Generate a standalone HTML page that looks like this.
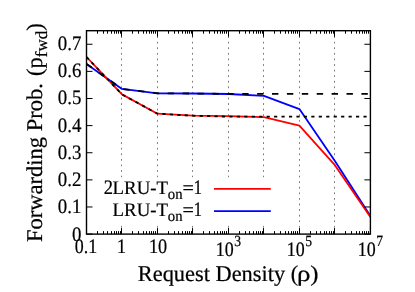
<!DOCTYPE html>
<html><head><meta charset="utf-8"><style>
html,body{margin:0;padding:0;background:#fff;}
body{width:415px;height:292px;position:relative;overflow:hidden;font-family:"Liberation Serif",serif;}
</style></head><body>
<svg width="415" height="292" viewBox="0 0 415 292" style="position:absolute;left:0;top:0;will-change:transform" text-rendering="geometricPrecision">
<rect width="415" height="292" fill="#fff"/>
<line x1="121.50" y1="30.7" x2="121.50" y2="234.1" stroke="#7c7c7c" stroke-width="1" stroke-dasharray="1.8,3.78" stroke-dashoffset="0.1"/>
<line x1="157.50" y1="30.7" x2="157.50" y2="234.1" stroke="#7c7c7c" stroke-width="1" stroke-dasharray="1.8,3.78" stroke-dashoffset="0.1"/>
<line x1="192.50" y1="30.7" x2="192.50" y2="234.1" stroke="#7c7c7c" stroke-width="1" stroke-dasharray="1.8,3.78" stroke-dashoffset="0.1"/>
<line x1="228.50" y1="30.7" x2="228.50" y2="234.1" stroke="#7c7c7c" stroke-width="1" stroke-dasharray="1.8,3.78" stroke-dashoffset="0.1"/>
<line x1="263.50" y1="30.7" x2="263.50" y2="234.1" stroke="#7c7c7c" stroke-width="1" stroke-dasharray="1.8,3.78" stroke-dashoffset="0.1"/>
<line x1="299.50" y1="30.7" x2="299.50" y2="234.1" stroke="#7c7c7c" stroke-width="1" stroke-dasharray="1.8,3.78" stroke-dashoffset="0.1"/>
<line x1="334.50" y1="30.7" x2="334.50" y2="234.1" stroke="#7c7c7c" stroke-width="1" stroke-dasharray="1.8,3.78" stroke-dashoffset="0.1"/>
<polyline points="86.50,63.90 121.99,88.90 157.47,93.30 192.96,93.50 228.45,94.00 263.94,95.80 299.42,109.10 334.91,161.00 370.40,215.90" fill="none" stroke="#0000ff" stroke-width="1.8" stroke-linejoin="round"/>
<polyline points="86.50,57.00 121.99,94.40 157.47,113.70 192.96,115.70 228.45,116.20 263.94,117.20 299.42,125.70 334.91,165.20 370.40,217.00" fill="none" stroke="#ff0000" stroke-width="1.8" stroke-linejoin="round"/>
<polyline points="86.50,63.90 121.99,88.90 157.47,93.30 192.96,93.50 228.45,93.90 370.40,93.90" fill="none" stroke="#000" stroke-width="1.8" stroke-dasharray="6.4,8.5"/>
<polyline points="86.50,57.00 121.99,94.40 157.47,113.70 192.96,115.70 228.45,116.70 370.40,116.70" fill="none" stroke="#000" stroke-width="1.8" stroke-dasharray="3.2,4.25"/>
<rect x="98" y="177.4" width="182" height="45.1" fill="#fff"/>
<rect x="86.5" y="30.7" width="283.9" height="203.4" fill="none" stroke="#000" stroke-width="1.4"/>
<line x1="86.5" y1="234.10" x2="92.5" y2="234.10" stroke="#000" stroke-width="1"/>
<line x1="370.4" y1="234.10" x2="364.4" y2="234.10" stroke="#000" stroke-width="1"/>
<line x1="86.5" y1="206.98" x2="92.5" y2="206.98" stroke="#000" stroke-width="1"/>
<line x1="370.4" y1="206.98" x2="364.4" y2="206.98" stroke="#000" stroke-width="1"/>
<line x1="86.5" y1="179.86" x2="92.5" y2="179.86" stroke="#000" stroke-width="1"/>
<line x1="370.4" y1="179.86" x2="364.4" y2="179.86" stroke="#000" stroke-width="1"/>
<line x1="86.5" y1="152.74" x2="92.5" y2="152.74" stroke="#000" stroke-width="1"/>
<line x1="370.4" y1="152.74" x2="364.4" y2="152.74" stroke="#000" stroke-width="1"/>
<line x1="86.5" y1="125.62" x2="92.5" y2="125.62" stroke="#000" stroke-width="1"/>
<line x1="370.4" y1="125.62" x2="364.4" y2="125.62" stroke="#000" stroke-width="1"/>
<line x1="86.5" y1="98.50" x2="92.5" y2="98.50" stroke="#000" stroke-width="1"/>
<line x1="370.4" y1="98.50" x2="364.4" y2="98.50" stroke="#000" stroke-width="1"/>
<line x1="86.5" y1="71.38" x2="92.5" y2="71.38" stroke="#000" stroke-width="1"/>
<line x1="370.4" y1="71.38" x2="364.4" y2="71.38" stroke="#000" stroke-width="1"/>
<line x1="86.5" y1="44.26" x2="92.5" y2="44.26" stroke="#000" stroke-width="1"/>
<line x1="370.4" y1="44.26" x2="364.4" y2="44.26" stroke="#000" stroke-width="1"/>
<line x1="97.50" y1="234.1" x2="97.50" y2="231.1" stroke="#000" stroke-width="1"/>
<line x1="97.50" y1="30.7" x2="97.50" y2="33.7" stroke="#000" stroke-width="1"/>
<line x1="103.50" y1="234.1" x2="103.50" y2="231.1" stroke="#000" stroke-width="1"/>
<line x1="103.50" y1="30.7" x2="103.50" y2="33.7" stroke="#000" stroke-width="1"/>
<line x1="107.50" y1="234.1" x2="107.50" y2="231.1" stroke="#000" stroke-width="1"/>
<line x1="107.50" y1="30.7" x2="107.50" y2="33.7" stroke="#000" stroke-width="1"/>
<line x1="111.50" y1="234.1" x2="111.50" y2="231.1" stroke="#000" stroke-width="1"/>
<line x1="111.50" y1="30.7" x2="111.50" y2="33.7" stroke="#000" stroke-width="1"/>
<line x1="114.50" y1="234.1" x2="114.50" y2="231.1" stroke="#000" stroke-width="1"/>
<line x1="114.50" y1="30.7" x2="114.50" y2="33.7" stroke="#000" stroke-width="1"/>
<line x1="116.50" y1="234.1" x2="116.50" y2="231.1" stroke="#000" stroke-width="1"/>
<line x1="116.50" y1="30.7" x2="116.50" y2="33.7" stroke="#000" stroke-width="1"/>
<line x1="118.50" y1="234.1" x2="118.50" y2="231.1" stroke="#000" stroke-width="1"/>
<line x1="118.50" y1="30.7" x2="118.50" y2="33.7" stroke="#000" stroke-width="1"/>
<line x1="120.50" y1="234.1" x2="120.50" y2="231.1" stroke="#000" stroke-width="1"/>
<line x1="120.50" y1="30.7" x2="120.50" y2="33.7" stroke="#000" stroke-width="1"/>
<line x1="121.50" y1="234.1" x2="121.50" y2="228.1" stroke="#000" stroke-width="1"/>
<line x1="121.50" y1="30.7" x2="121.50" y2="36.7" stroke="#000" stroke-width="1"/>
<line x1="132.50" y1="234.1" x2="132.50" y2="231.1" stroke="#000" stroke-width="1"/>
<line x1="132.50" y1="30.7" x2="132.50" y2="33.7" stroke="#000" stroke-width="1"/>
<line x1="138.50" y1="234.1" x2="138.50" y2="231.1" stroke="#000" stroke-width="1"/>
<line x1="138.50" y1="30.7" x2="138.50" y2="33.7" stroke="#000" stroke-width="1"/>
<line x1="143.50" y1="234.1" x2="143.50" y2="231.1" stroke="#000" stroke-width="1"/>
<line x1="143.50" y1="30.7" x2="143.50" y2="33.7" stroke="#000" stroke-width="1"/>
<line x1="146.50" y1="234.1" x2="146.50" y2="231.1" stroke="#000" stroke-width="1"/>
<line x1="146.50" y1="30.7" x2="146.50" y2="33.7" stroke="#000" stroke-width="1"/>
<line x1="149.50" y1="234.1" x2="149.50" y2="231.1" stroke="#000" stroke-width="1"/>
<line x1="149.50" y1="30.7" x2="149.50" y2="33.7" stroke="#000" stroke-width="1"/>
<line x1="151.50" y1="234.1" x2="151.50" y2="231.1" stroke="#000" stroke-width="1"/>
<line x1="151.50" y1="30.7" x2="151.50" y2="33.7" stroke="#000" stroke-width="1"/>
<line x1="153.50" y1="234.1" x2="153.50" y2="231.1" stroke="#000" stroke-width="1"/>
<line x1="153.50" y1="30.7" x2="153.50" y2="33.7" stroke="#000" stroke-width="1"/>
<line x1="155.50" y1="234.1" x2="155.50" y2="231.1" stroke="#000" stroke-width="1"/>
<line x1="155.50" y1="30.7" x2="155.50" y2="33.7" stroke="#000" stroke-width="1"/>
<line x1="157.50" y1="234.1" x2="157.50" y2="228.1" stroke="#000" stroke-width="1"/>
<line x1="157.50" y1="30.7" x2="157.50" y2="36.7" stroke="#000" stroke-width="1"/>
<line x1="168.50" y1="234.1" x2="168.50" y2="231.1" stroke="#000" stroke-width="1"/>
<line x1="168.50" y1="30.7" x2="168.50" y2="33.7" stroke="#000" stroke-width="1"/>
<line x1="174.50" y1="234.1" x2="174.50" y2="231.1" stroke="#000" stroke-width="1"/>
<line x1="174.50" y1="30.7" x2="174.50" y2="33.7" stroke="#000" stroke-width="1"/>
<line x1="178.50" y1="234.1" x2="178.50" y2="231.1" stroke="#000" stroke-width="1"/>
<line x1="178.50" y1="30.7" x2="178.50" y2="33.7" stroke="#000" stroke-width="1"/>
<line x1="182.50" y1="234.1" x2="182.50" y2="231.1" stroke="#000" stroke-width="1"/>
<line x1="182.50" y1="30.7" x2="182.50" y2="33.7" stroke="#000" stroke-width="1"/>
<line x1="185.50" y1="234.1" x2="185.50" y2="231.1" stroke="#000" stroke-width="1"/>
<line x1="185.50" y1="30.7" x2="185.50" y2="33.7" stroke="#000" stroke-width="1"/>
<line x1="187.50" y1="234.1" x2="187.50" y2="231.1" stroke="#000" stroke-width="1"/>
<line x1="187.50" y1="30.7" x2="187.50" y2="33.7" stroke="#000" stroke-width="1"/>
<line x1="189.50" y1="234.1" x2="189.50" y2="231.1" stroke="#000" stroke-width="1"/>
<line x1="189.50" y1="30.7" x2="189.50" y2="33.7" stroke="#000" stroke-width="1"/>
<line x1="191.50" y1="234.1" x2="191.50" y2="231.1" stroke="#000" stroke-width="1"/>
<line x1="191.50" y1="30.7" x2="191.50" y2="33.7" stroke="#000" stroke-width="1"/>
<line x1="192.50" y1="234.1" x2="192.50" y2="228.1" stroke="#000" stroke-width="1"/>
<line x1="192.50" y1="30.7" x2="192.50" y2="36.7" stroke="#000" stroke-width="1"/>
<line x1="203.50" y1="234.1" x2="203.50" y2="231.1" stroke="#000" stroke-width="1"/>
<line x1="203.50" y1="30.7" x2="203.50" y2="33.7" stroke="#000" stroke-width="1"/>
<line x1="209.50" y1="234.1" x2="209.50" y2="231.1" stroke="#000" stroke-width="1"/>
<line x1="209.50" y1="30.7" x2="209.50" y2="33.7" stroke="#000" stroke-width="1"/>
<line x1="214.50" y1="234.1" x2="214.50" y2="231.1" stroke="#000" stroke-width="1"/>
<line x1="214.50" y1="30.7" x2="214.50" y2="33.7" stroke="#000" stroke-width="1"/>
<line x1="217.50" y1="234.1" x2="217.50" y2="231.1" stroke="#000" stroke-width="1"/>
<line x1="217.50" y1="30.7" x2="217.50" y2="33.7" stroke="#000" stroke-width="1"/>
<line x1="220.50" y1="234.1" x2="220.50" y2="231.1" stroke="#000" stroke-width="1"/>
<line x1="220.50" y1="30.7" x2="220.50" y2="33.7" stroke="#000" stroke-width="1"/>
<line x1="222.50" y1="234.1" x2="222.50" y2="231.1" stroke="#000" stroke-width="1"/>
<line x1="222.50" y1="30.7" x2="222.50" y2="33.7" stroke="#000" stroke-width="1"/>
<line x1="224.50" y1="234.1" x2="224.50" y2="231.1" stroke="#000" stroke-width="1"/>
<line x1="224.50" y1="30.7" x2="224.50" y2="33.7" stroke="#000" stroke-width="1"/>
<line x1="226.50" y1="234.1" x2="226.50" y2="231.1" stroke="#000" stroke-width="1"/>
<line x1="226.50" y1="30.7" x2="226.50" y2="33.7" stroke="#000" stroke-width="1"/>
<line x1="228.50" y1="234.1" x2="228.50" y2="228.1" stroke="#000" stroke-width="1"/>
<line x1="228.50" y1="30.7" x2="228.50" y2="36.7" stroke="#000" stroke-width="1"/>
<line x1="239.50" y1="234.1" x2="239.50" y2="231.1" stroke="#000" stroke-width="1"/>
<line x1="239.50" y1="30.7" x2="239.50" y2="33.7" stroke="#000" stroke-width="1"/>
<line x1="245.50" y1="234.1" x2="245.50" y2="231.1" stroke="#000" stroke-width="1"/>
<line x1="245.50" y1="30.7" x2="245.50" y2="33.7" stroke="#000" stroke-width="1"/>
<line x1="249.50" y1="234.1" x2="249.50" y2="231.1" stroke="#000" stroke-width="1"/>
<line x1="249.50" y1="30.7" x2="249.50" y2="33.7" stroke="#000" stroke-width="1"/>
<line x1="253.50" y1="234.1" x2="253.50" y2="231.1" stroke="#000" stroke-width="1"/>
<line x1="253.50" y1="30.7" x2="253.50" y2="33.7" stroke="#000" stroke-width="1"/>
<line x1="256.50" y1="234.1" x2="256.50" y2="231.1" stroke="#000" stroke-width="1"/>
<line x1="256.50" y1="30.7" x2="256.50" y2="33.7" stroke="#000" stroke-width="1"/>
<line x1="258.50" y1="234.1" x2="258.50" y2="231.1" stroke="#000" stroke-width="1"/>
<line x1="258.50" y1="30.7" x2="258.50" y2="33.7" stroke="#000" stroke-width="1"/>
<line x1="260.50" y1="234.1" x2="260.50" y2="231.1" stroke="#000" stroke-width="1"/>
<line x1="260.50" y1="30.7" x2="260.50" y2="33.7" stroke="#000" stroke-width="1"/>
<line x1="262.50" y1="234.1" x2="262.50" y2="231.1" stroke="#000" stroke-width="1"/>
<line x1="262.50" y1="30.7" x2="262.50" y2="33.7" stroke="#000" stroke-width="1"/>
<line x1="263.50" y1="234.1" x2="263.50" y2="228.1" stroke="#000" stroke-width="1"/>
<line x1="263.50" y1="30.7" x2="263.50" y2="36.7" stroke="#000" stroke-width="1"/>
<line x1="274.50" y1="234.1" x2="274.50" y2="231.1" stroke="#000" stroke-width="1"/>
<line x1="274.50" y1="30.7" x2="274.50" y2="33.7" stroke="#000" stroke-width="1"/>
<line x1="280.50" y1="234.1" x2="280.50" y2="231.1" stroke="#000" stroke-width="1"/>
<line x1="280.50" y1="30.7" x2="280.50" y2="33.7" stroke="#000" stroke-width="1"/>
<line x1="285.50" y1="234.1" x2="285.50" y2="231.1" stroke="#000" stroke-width="1"/>
<line x1="285.50" y1="30.7" x2="285.50" y2="33.7" stroke="#000" stroke-width="1"/>
<line x1="288.50" y1="234.1" x2="288.50" y2="231.1" stroke="#000" stroke-width="1"/>
<line x1="288.50" y1="30.7" x2="288.50" y2="33.7" stroke="#000" stroke-width="1"/>
<line x1="291.50" y1="234.1" x2="291.50" y2="231.1" stroke="#000" stroke-width="1"/>
<line x1="291.50" y1="30.7" x2="291.50" y2="33.7" stroke="#000" stroke-width="1"/>
<line x1="293.50" y1="234.1" x2="293.50" y2="231.1" stroke="#000" stroke-width="1"/>
<line x1="293.50" y1="30.7" x2="293.50" y2="33.7" stroke="#000" stroke-width="1"/>
<line x1="295.50" y1="234.1" x2="295.50" y2="231.1" stroke="#000" stroke-width="1"/>
<line x1="295.50" y1="30.7" x2="295.50" y2="33.7" stroke="#000" stroke-width="1"/>
<line x1="297.50" y1="234.1" x2="297.50" y2="231.1" stroke="#000" stroke-width="1"/>
<line x1="297.50" y1="30.7" x2="297.50" y2="33.7" stroke="#000" stroke-width="1"/>
<line x1="299.50" y1="234.1" x2="299.50" y2="228.1" stroke="#000" stroke-width="1"/>
<line x1="299.50" y1="30.7" x2="299.50" y2="36.7" stroke="#000" stroke-width="1"/>
<line x1="310.50" y1="234.1" x2="310.50" y2="231.1" stroke="#000" stroke-width="1"/>
<line x1="310.50" y1="30.7" x2="310.50" y2="33.7" stroke="#000" stroke-width="1"/>
<line x1="316.50" y1="234.1" x2="316.50" y2="231.1" stroke="#000" stroke-width="1"/>
<line x1="316.50" y1="30.7" x2="316.50" y2="33.7" stroke="#000" stroke-width="1"/>
<line x1="320.50" y1="234.1" x2="320.50" y2="231.1" stroke="#000" stroke-width="1"/>
<line x1="320.50" y1="30.7" x2="320.50" y2="33.7" stroke="#000" stroke-width="1"/>
<line x1="324.50" y1="234.1" x2="324.50" y2="231.1" stroke="#000" stroke-width="1"/>
<line x1="324.50" y1="30.7" x2="324.50" y2="33.7" stroke="#000" stroke-width="1"/>
<line x1="326.50" y1="234.1" x2="326.50" y2="231.1" stroke="#000" stroke-width="1"/>
<line x1="326.50" y1="30.7" x2="326.50" y2="33.7" stroke="#000" stroke-width="1"/>
<line x1="329.50" y1="234.1" x2="329.50" y2="231.1" stroke="#000" stroke-width="1"/>
<line x1="329.50" y1="30.7" x2="329.50" y2="33.7" stroke="#000" stroke-width="1"/>
<line x1="331.50" y1="234.1" x2="331.50" y2="231.1" stroke="#000" stroke-width="1"/>
<line x1="331.50" y1="30.7" x2="331.50" y2="33.7" stroke="#000" stroke-width="1"/>
<line x1="333.50" y1="234.1" x2="333.50" y2="231.1" stroke="#000" stroke-width="1"/>
<line x1="333.50" y1="30.7" x2="333.50" y2="33.7" stroke="#000" stroke-width="1"/>
<line x1="334.50" y1="234.1" x2="334.50" y2="228.1" stroke="#000" stroke-width="1"/>
<line x1="334.50" y1="30.7" x2="334.50" y2="36.7" stroke="#000" stroke-width="1"/>
<line x1="345.50" y1="234.1" x2="345.50" y2="231.1" stroke="#000" stroke-width="1"/>
<line x1="345.50" y1="30.7" x2="345.50" y2="33.7" stroke="#000" stroke-width="1"/>
<line x1="351.50" y1="234.1" x2="351.50" y2="231.1" stroke="#000" stroke-width="1"/>
<line x1="351.50" y1="30.7" x2="351.50" y2="33.7" stroke="#000" stroke-width="1"/>
<line x1="356.50" y1="234.1" x2="356.50" y2="231.1" stroke="#000" stroke-width="1"/>
<line x1="356.50" y1="30.7" x2="356.50" y2="33.7" stroke="#000" stroke-width="1"/>
<line x1="359.50" y1="234.1" x2="359.50" y2="231.1" stroke="#000" stroke-width="1"/>
<line x1="359.50" y1="30.7" x2="359.50" y2="33.7" stroke="#000" stroke-width="1"/>
<line x1="362.50" y1="234.1" x2="362.50" y2="231.1" stroke="#000" stroke-width="1"/>
<line x1="362.50" y1="30.7" x2="362.50" y2="33.7" stroke="#000" stroke-width="1"/>
<line x1="364.50" y1="234.1" x2="364.50" y2="231.1" stroke="#000" stroke-width="1"/>
<line x1="364.50" y1="30.7" x2="364.50" y2="33.7" stroke="#000" stroke-width="1"/>
<line x1="366.50" y1="234.1" x2="366.50" y2="231.1" stroke="#000" stroke-width="1"/>
<line x1="366.50" y1="30.7" x2="366.50" y2="33.7" stroke="#000" stroke-width="1"/>
<line x1="368.50" y1="234.1" x2="368.50" y2="231.1" stroke="#000" stroke-width="1"/>
<line x1="368.50" y1="30.7" x2="368.50" y2="33.7" stroke="#000" stroke-width="1"/>
<line x1="214" y1="188.8" x2="270.8" y2="188.8" stroke="#ff0000" stroke-width="1.8"/>
<line x1="214" y1="211.2" x2="270.8" y2="211.2" stroke="#0000ff" stroke-width="1.8"/>
<g transform="translate(81.40,240.90) scale(0.92,1)"><text x="0" y="0" text-anchor="end" style="font-family:'Liberation Serif',serif;font-size:20.5px;fill:#000;stroke:#000;stroke-width:0.22px">0</text></g>
<g transform="translate(81.40,212.88) scale(0.92,1)"><text x="0" y="0" text-anchor="end" style="font-family:'Liberation Serif',serif;font-size:20.5px;fill:#000;stroke:#000;stroke-width:0.22px">0.1</text></g>
<g transform="translate(81.40,185.76) scale(0.92,1)"><text x="0" y="0" text-anchor="end" style="font-family:'Liberation Serif',serif;font-size:20.5px;fill:#000;stroke:#000;stroke-width:0.22px">0.2</text></g>
<g transform="translate(81.40,158.64) scale(0.92,1)"><text x="0" y="0" text-anchor="end" style="font-family:'Liberation Serif',serif;font-size:20.5px;fill:#000;stroke:#000;stroke-width:0.22px">0.3</text></g>
<g transform="translate(81.40,131.52) scale(0.92,1)"><text x="0" y="0" text-anchor="end" style="font-family:'Liberation Serif',serif;font-size:20.5px;fill:#000;stroke:#000;stroke-width:0.22px">0.4</text></g>
<g transform="translate(81.40,104.40) scale(0.92,1)"><text x="0" y="0" text-anchor="end" style="font-family:'Liberation Serif',serif;font-size:20.5px;fill:#000;stroke:#000;stroke-width:0.22px">0.5</text></g>
<g transform="translate(81.40,77.28) scale(0.92,1)"><text x="0" y="0" text-anchor="end" style="font-family:'Liberation Serif',serif;font-size:20.5px;fill:#000;stroke:#000;stroke-width:0.22px">0.6</text></g>
<g transform="translate(81.40,50.16) scale(0.92,1)"><text x="0" y="0" text-anchor="end" style="font-family:'Liberation Serif',serif;font-size:20.5px;fill:#000;stroke:#000;stroke-width:0.22px">0.7</text></g>
<g transform="translate(85.90,253.25) scale(0.875,1)"><text x="0" y="0" text-anchor="middle" style="font-family:'Liberation Serif',serif;font-size:20.5px;fill:#000;stroke:#000;stroke-width:0.22px">0.1</text></g>
<g transform="translate(121.59,253.25) scale(0.88,1)"><text x="0" y="0" text-anchor="middle" style="font-family:'Liberation Serif',serif;font-size:20.5px;fill:#000;stroke:#000;stroke-width:0.22px">1</text></g>
<g transform="translate(158.07,253.25) scale(0.89,1)"><text x="0" y="0" text-anchor="middle" style="font-family:'Liberation Serif',serif;font-size:20.5px;fill:#000;stroke:#000;stroke-width:0.22px">10</text></g>
<g transform="translate(233.80,255.50) scale(0.875,1)"><text x="0" y="0" text-anchor="end" style="font-family:'Liberation Serif',serif;font-size:20.5px;fill:#000;stroke:#000;stroke-width:0.22px">10</text></g>
<g transform="translate(234.35,245.80) scale(0.88,1)"><text x="0" y="0" text-anchor="start" style="font-family:'Liberation Serif',serif;font-size:15.5px;fill:#000;stroke:#000;stroke-width:0.22px">3</text></g>
<g transform="translate(304.77,255.50) scale(0.875,1)"><text x="0" y="0" text-anchor="end" style="font-family:'Liberation Serif',serif;font-size:20.5px;fill:#000;stroke:#000;stroke-width:0.22px">10</text></g>
<g transform="translate(305.32,245.80) scale(0.88,1)"><text x="0" y="0" text-anchor="start" style="font-family:'Liberation Serif',serif;font-size:15.5px;fill:#000;stroke:#000;stroke-width:0.22px">5</text></g>
<g transform="translate(375.75,255.50) scale(0.875,1)"><text x="0" y="0" text-anchor="end" style="font-family:'Liberation Serif',serif;font-size:20.5px;fill:#000;stroke:#000;stroke-width:0.22px">10</text></g>
<g transform="translate(376.30,245.80) scale(0.88,1)"><text x="0" y="0" text-anchor="start" style="font-family:'Liberation Serif',serif;font-size:15.5px;fill:#000;stroke:#000;stroke-width:0.22px">7</text></g>
<g transform="translate(168.00,193.60) scale(0.985,1)"><text x="0" y="0" text-anchor="end" style="font-family:'Liberation Serif',serif;font-size:19.1px;fill:#000;stroke:#000;stroke-width:0.22px">LRU-T</text></g>
<g transform="translate(112.90,193.60) scale(0.9,1)"><text x="0" y="0" text-anchor="end" style="font-family:'Liberation Serif',serif;font-size:20.5px;fill:#000;stroke:#000;stroke-width:0.22px">2</text></g>
<g transform="translate(167.80,198.80) scale(0.95,1)"><text x="0" y="0" text-anchor="start" style="font-family:'Liberation Serif',serif;font-size:15.5px;fill:#000;stroke:#000;stroke-width:0.22px">on</text></g>
<g transform="translate(182.40,194.20) scale(1.06,1)"><text x="0" y="0" text-anchor="start" style="font-family:'Liberation Serif',serif;font-size:19.1px;fill:#000;stroke:#000;stroke-width:0.22px">=</text></g>
<g transform="translate(201.90,193.60) scale(0.8,1)"><text x="0" y="0" text-anchor="end" style="font-family:'Liberation Serif',serif;font-size:20.5px;fill:#000;stroke:#000;stroke-width:0.22px">1</text></g>
<g transform="translate(168.00,215.60) scale(0.985,1)"><text x="0" y="0" text-anchor="end" style="font-family:'Liberation Serif',serif;font-size:19.1px;fill:#000;stroke:#000;stroke-width:0.22px">LRU-T</text></g>
<g transform="translate(167.80,220.80) scale(0.95,1)"><text x="0" y="0" text-anchor="start" style="font-family:'Liberation Serif',serif;font-size:15.5px;fill:#000;stroke:#000;stroke-width:0.22px">on</text></g>
<g transform="translate(182.40,216.20) scale(1.06,1)"><text x="0" y="0" text-anchor="start" style="font-family:'Liberation Serif',serif;font-size:19.1px;fill:#000;stroke:#000;stroke-width:0.22px">=</text></g>
<g transform="translate(201.90,215.60) scale(0.8,1)"><text x="0" y="0" text-anchor="end" style="font-family:'Liberation Serif',serif;font-size:20.5px;fill:#000;stroke:#000;stroke-width:0.22px">1</text></g>
<g transform="translate(298.20,280.90) scale(0.995,1)"><text x="0" y="0" text-anchor="end" style="font-family:'Liberation Serif',serif;font-size:22.5px;fill:#000;stroke:#000;stroke-width:0.22px">Request Density (</text></g>
<g transform="translate(297.10,280.90) scale(1.2,1)"><text x="0" y="0" text-anchor="start" style="font-family:'Liberation Serif',serif;font-size:22.5px;fill:#000;stroke:#000;stroke-width:0.22px">ρ</text></g>
<g transform="translate(310.30,280.90) scale(1.1,1)"><text x="0" y="0" text-anchor="start" style="font-family:'Liberation Serif',serif;font-size:22.5px;fill:#000;stroke:#000;stroke-width:0.22px">)</text></g>
<text transform="translate(42.2,132.6) rotate(-90)" text-anchor="middle" style="font-family:'Liberation Serif',serif;font-size:22.5px;fill:#000;stroke:#000;stroke-width:0.22px">Forwarding Prob. <tspan dx="1.6">(p</tspan><tspan dy="5.2" font-size="17">fwd</tspan><tspan dy="-5.2">)</tspan></text>
</svg>
</body></html>
